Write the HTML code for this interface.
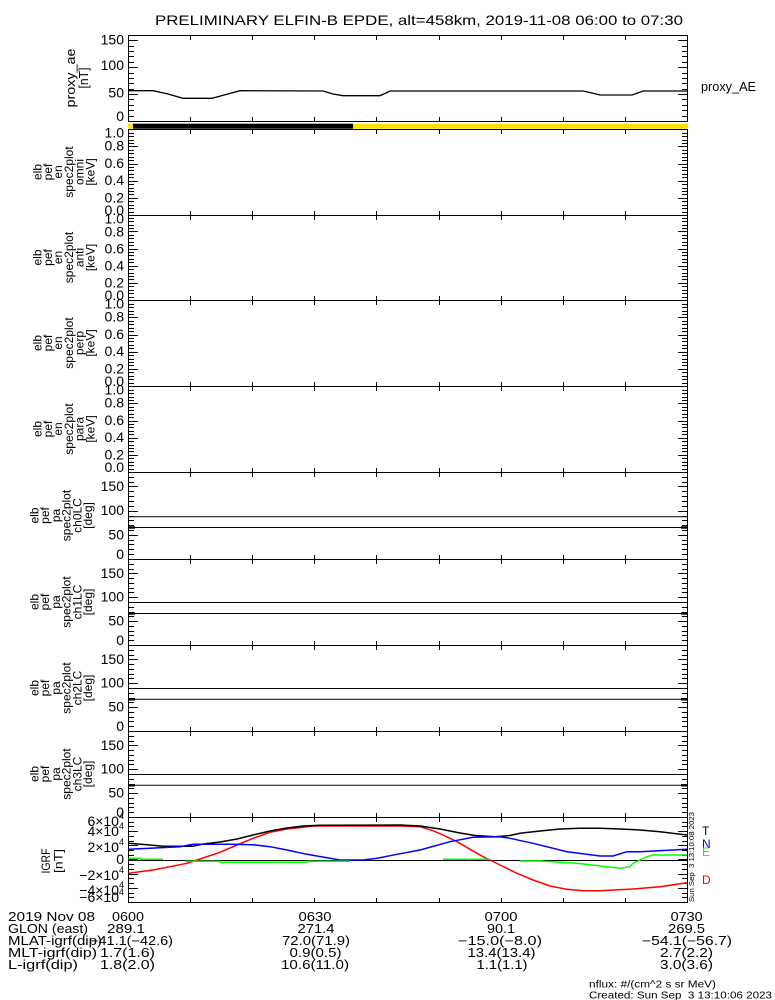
<!DOCTYPE html>
<html><head><meta charset="utf-8"><style>
html,body{margin:0;padding:0;background:#fff;}
svg{display:block;}
text{font-family:"Liberation Sans",sans-serif;fill:#000;}
</style></head><body>
<svg width="775" height="1000" viewBox="0 0 775 1000" xmlns="http://www.w3.org/2000/svg">
<rect width="775" height="1000" fill="#fff"/>

<!-- Title -->
<text x="155" y="25" font-size="14" textLength="528" lengthAdjust="spacingAndGlyphs">PRELIMINARY ELFIN-B EPDE, alt=458km, 2019-11-08 06:00 to 07:30</text>

<!-- status bar -->
<rect x="128" y="123.7" width="5" height="5" fill="#fde000"/>
<rect x="133" y="123.7" width="220" height="5" fill="#000"/>
<rect x="353" y="123.7" width="335" height="5" fill="#fde000"/>

<!-- frames -->
<g stroke="#000" stroke-width="1" fill="none" shape-rendering="crispEdges">
  <line x1="128.5" y1="35" x2="128.5" y2="122"/>
  <line x1="687.5" y1="35" x2="687.5" y2="122"/>
  <line x1="128.5" y1="129" x2="128.5" y2="903"/>
  <line x1="687.5" y1="129" x2="687.5" y2="903"/>
  <line x1="128" y1="35.5" x2="688" y2="35.5"/>
  <line x1="128" y1="121.5" x2="688" y2="121.5"/>
  <line x1="128" y1="129.5" x2="688" y2="129.5"/>
  <line x1="128" y1="215.5" x2="688" y2="215.5"/>
  <line x1="128" y1="300.5" x2="688" y2="300.5"/>
  <line x1="128" y1="386.5" x2="688" y2="386.5"/>
  <line x1="128" y1="472.5" x2="688" y2="472.5"/>
  <line x1="128" y1="559.5" x2="688" y2="559.5"/>
  <line x1="128" y1="645.5" x2="688" y2="645.5"/>
  <line x1="128" y1="731.5" x2="688" y2="731.5"/>
  <line x1="128" y1="817.5" x2="688" y2="817.5"/>
  <line x1="128" y1="902.5" x2="688" y2="902.5"/>
</g>

<!-- X ticks -->
<g stroke="#000" stroke-width="1" fill="none" shape-rendering="crispEdges">
<line x1="190.5" y1="36" x2="190.5" y2="40"/><line x1="190.5" y1="117" x2="190.5" y2="121"/><line x1="190.5" y1="130" x2="190.5" y2="134"/><line x1="190.5" y1="211" x2="190.5" y2="220"/><line x1="190.5" y1="296" x2="190.5" y2="305"/><line x1="190.5" y1="382" x2="190.5" y2="391"/><line x1="190.5" y1="468" x2="190.5" y2="477"/><line x1="190.5" y1="555" x2="190.5" y2="564"/><line x1="190.5" y1="641" x2="190.5" y2="650"/><line x1="190.5" y1="727" x2="190.5" y2="736"/><line x1="190.5" y1="813" x2="190.5" y2="822"/><line x1="190.5" y1="898" x2="190.5" y2="902"/>
<line x1="252.5" y1="36" x2="252.5" y2="40"/><line x1="252.5" y1="117" x2="252.5" y2="121"/><line x1="252.5" y1="130" x2="252.5" y2="134"/><line x1="252.5" y1="211" x2="252.5" y2="220"/><line x1="252.5" y1="296" x2="252.5" y2="305"/><line x1="252.5" y1="382" x2="252.5" y2="391"/><line x1="252.5" y1="468" x2="252.5" y2="477"/><line x1="252.5" y1="555" x2="252.5" y2="564"/><line x1="252.5" y1="641" x2="252.5" y2="650"/><line x1="252.5" y1="727" x2="252.5" y2="736"/><line x1="252.5" y1="813" x2="252.5" y2="822"/><line x1="252.5" y1="898" x2="252.5" y2="902"/>
<line x1="314.5" y1="36" x2="314.5" y2="40"/><line x1="314.5" y1="117" x2="314.5" y2="121"/><line x1="314.5" y1="130" x2="314.5" y2="134"/><line x1="314.5" y1="211" x2="314.5" y2="220"/><line x1="314.5" y1="296" x2="314.5" y2="305"/><line x1="314.5" y1="382" x2="314.5" y2="391"/><line x1="314.5" y1="468" x2="314.5" y2="477"/><line x1="314.5" y1="555" x2="314.5" y2="564"/><line x1="314.5" y1="641" x2="314.5" y2="650"/><line x1="314.5" y1="727" x2="314.5" y2="736"/><line x1="314.5" y1="813" x2="314.5" y2="822"/><line x1="314.5" y1="898" x2="314.5" y2="902"/>
<line x1="376.5" y1="36" x2="376.5" y2="40"/><line x1="376.5" y1="117" x2="376.5" y2="121"/><line x1="376.5" y1="130" x2="376.5" y2="134"/><line x1="376.5" y1="211" x2="376.5" y2="220"/><line x1="376.5" y1="296" x2="376.5" y2="305"/><line x1="376.5" y1="382" x2="376.5" y2="391"/><line x1="376.5" y1="468" x2="376.5" y2="477"/><line x1="376.5" y1="555" x2="376.5" y2="564"/><line x1="376.5" y1="641" x2="376.5" y2="650"/><line x1="376.5" y1="727" x2="376.5" y2="736"/><line x1="376.5" y1="813" x2="376.5" y2="822"/><line x1="376.5" y1="898" x2="376.5" y2="902"/>
<line x1="439.5" y1="36" x2="439.5" y2="40"/><line x1="439.5" y1="117" x2="439.5" y2="121"/><line x1="439.5" y1="130" x2="439.5" y2="134"/><line x1="439.5" y1="211" x2="439.5" y2="220"/><line x1="439.5" y1="296" x2="439.5" y2="305"/><line x1="439.5" y1="382" x2="439.5" y2="391"/><line x1="439.5" y1="468" x2="439.5" y2="477"/><line x1="439.5" y1="555" x2="439.5" y2="564"/><line x1="439.5" y1="641" x2="439.5" y2="650"/><line x1="439.5" y1="727" x2="439.5" y2="736"/><line x1="439.5" y1="813" x2="439.5" y2="822"/><line x1="439.5" y1="898" x2="439.5" y2="902"/>
<line x1="501.5" y1="36" x2="501.5" y2="40"/><line x1="501.5" y1="117" x2="501.5" y2="121"/><line x1="501.5" y1="130" x2="501.5" y2="134"/><line x1="501.5" y1="211" x2="501.5" y2="220"/><line x1="501.5" y1="296" x2="501.5" y2="305"/><line x1="501.5" y1="382" x2="501.5" y2="391"/><line x1="501.5" y1="468" x2="501.5" y2="477"/><line x1="501.5" y1="555" x2="501.5" y2="564"/><line x1="501.5" y1="641" x2="501.5" y2="650"/><line x1="501.5" y1="727" x2="501.5" y2="736"/><line x1="501.5" y1="813" x2="501.5" y2="822"/><line x1="501.5" y1="898" x2="501.5" y2="902"/>
<line x1="563.5" y1="36" x2="563.5" y2="40"/><line x1="563.5" y1="117" x2="563.5" y2="121"/><line x1="563.5" y1="130" x2="563.5" y2="134"/><line x1="563.5" y1="211" x2="563.5" y2="220"/><line x1="563.5" y1="296" x2="563.5" y2="305"/><line x1="563.5" y1="382" x2="563.5" y2="391"/><line x1="563.5" y1="468" x2="563.5" y2="477"/><line x1="563.5" y1="555" x2="563.5" y2="564"/><line x1="563.5" y1="641" x2="563.5" y2="650"/><line x1="563.5" y1="727" x2="563.5" y2="736"/><line x1="563.5" y1="813" x2="563.5" y2="822"/><line x1="563.5" y1="898" x2="563.5" y2="902"/>
<line x1="625.5" y1="36" x2="625.5" y2="40"/><line x1="625.5" y1="117" x2="625.5" y2="121"/><line x1="625.5" y1="130" x2="625.5" y2="134"/><line x1="625.5" y1="211" x2="625.5" y2="220"/><line x1="625.5" y1="296" x2="625.5" y2="305"/><line x1="625.5" y1="382" x2="625.5" y2="391"/><line x1="625.5" y1="468" x2="625.5" y2="477"/><line x1="625.5" y1="555" x2="625.5" y2="564"/><line x1="625.5" y1="641" x2="625.5" y2="650"/><line x1="625.5" y1="727" x2="625.5" y2="736"/><line x1="625.5" y1="813" x2="625.5" y2="822"/><line x1="625.5" y1="898" x2="625.5" y2="902"/>
</g>

<!-- Y ticks left -->
<g stroke="#000" stroke-width="1" fill="none" shape-rendering="crispEdges">
<line x1="128" y1="121.5" x2="138" y2="121.5"/><line x1="128" y1="116.5" x2="134" y2="116.5"/><line x1="128" y1="110.5" x2="134" y2="110.5"/><line x1="128" y1="105.5" x2="134" y2="105.5"/><line x1="128" y1="99.5" x2="134" y2="99.5"/><line x1="128" y1="94.5" x2="138" y2="94.5"/><line x1="128" y1="89.5" x2="134" y2="89.5"/><line x1="128" y1="83.5" x2="134" y2="83.5"/><line x1="128" y1="78.5" x2="134" y2="78.5"/><line x1="128" y1="73.5" x2="134" y2="73.5"/><line x1="128" y1="67.5" x2="138" y2="67.5"/><line x1="128" y1="62.5" x2="134" y2="62.5"/><line x1="128" y1="56.5" x2="134" y2="56.5"/><line x1="128" y1="51.5" x2="134" y2="51.5"/><line x1="128" y1="46.5" x2="134" y2="46.5"/><line x1="128" y1="40.5" x2="138" y2="40.5"/>

<line x1="128" y1="215.5" x2="138" y2="215.5"/><line x1="128" y1="212.5" x2="134" y2="212.5"/><line x1="128" y1="208.5" x2="134" y2="208.5"/><line x1="128" y1="205.5" x2="134" y2="205.5"/><line x1="128" y1="201.5" x2="134" y2="201.5"/><line x1="128" y1="198.5" x2="138" y2="198.5"/><line x1="128" y1="194.5" x2="134" y2="194.5"/><line x1="128" y1="191.5" x2="134" y2="191.5"/><line x1="128" y1="188.5" x2="134" y2="188.5"/><line x1="128" y1="184.5" x2="134" y2="184.5"/><line x1="128" y1="181.5" x2="138" y2="181.5"/><line x1="128" y1="177.5" x2="134" y2="177.5"/><line x1="128" y1="174.5" x2="134" y2="174.5"/><line x1="128" y1="170.5" x2="134" y2="170.5"/><line x1="128" y1="167.5" x2="134" y2="167.5"/><line x1="128" y1="164.5" x2="138" y2="164.5"/><line x1="128" y1="160.5" x2="134" y2="160.5"/><line x1="128" y1="157.5" x2="134" y2="157.5"/><line x1="128" y1="153.5" x2="134" y2="153.5"/><line x1="128" y1="150.5" x2="134" y2="150.5"/><line x1="128" y1="146.5" x2="138" y2="146.5"/><line x1="128" y1="143.5" x2="134" y2="143.5"/><line x1="128" y1="140.5" x2="134" y2="140.5"/><line x1="128" y1="136.5" x2="134" y2="136.5"/><line x1="128" y1="133.5" x2="134" y2="133.5"/><line x1="128" y1="129.5" x2="138" y2="129.5"/>

<line x1="128" y1="300.5" x2="138" y2="300.5"/><line x1="128" y1="297.5" x2="134" y2="297.5"/><line x1="128" y1="293.5" x2="134" y2="293.5"/><line x1="128" y1="290.5" x2="134" y2="290.5"/><line x1="128" y1="286.5" x2="134" y2="286.5"/><line x1="128" y1="283.5" x2="138" y2="283.5"/><line x1="128" y1="279.5" x2="134" y2="279.5"/><line x1="128" y1="276.5" x2="134" y2="276.5"/><line x1="128" y1="273.5" x2="134" y2="273.5"/><line x1="128" y1="269.5" x2="134" y2="269.5"/><line x1="128" y1="266.5" x2="138" y2="266.5"/><line x1="128" y1="262.5" x2="134" y2="262.5"/><line x1="128" y1="259.5" x2="134" y2="259.5"/><line x1="128" y1="255.5" x2="134" y2="255.5"/><line x1="128" y1="252.5" x2="134" y2="252.5"/><line x1="128" y1="249.5" x2="138" y2="249.5"/><line x1="128" y1="245.5" x2="134" y2="245.5"/><line x1="128" y1="242.5" x2="134" y2="242.5"/><line x1="128" y1="238.5" x2="134" y2="238.5"/><line x1="128" y1="235.5" x2="134" y2="235.5"/><line x1="128" y1="231.5" x2="138" y2="231.5"/><line x1="128" y1="228.5" x2="134" y2="228.5"/><line x1="128" y1="225.5" x2="134" y2="225.5"/><line x1="128" y1="221.5" x2="134" y2="221.5"/><line x1="128" y1="218.5" x2="134" y2="218.5"/>

<line x1="128" y1="386.5" x2="138" y2="386.5"/><line x1="128" y1="383.5" x2="134" y2="383.5"/><line x1="128" y1="379.5" x2="134" y2="379.5"/><line x1="128" y1="376.5" x2="134" y2="376.5"/><line x1="128" y1="372.5" x2="134" y2="372.5"/><line x1="128" y1="369.5" x2="138" y2="369.5"/><line x1="128" y1="365.5" x2="134" y2="365.5"/><line x1="128" y1="362.5" x2="134" y2="362.5"/><line x1="128" y1="359.5" x2="134" y2="359.5"/><line x1="128" y1="355.5" x2="134" y2="355.5"/><line x1="128" y1="352.5" x2="138" y2="352.5"/><line x1="128" y1="348.5" x2="134" y2="348.5"/><line x1="128" y1="345.5" x2="134" y2="345.5"/><line x1="128" y1="341.5" x2="134" y2="341.5"/><line x1="128" y1="338.5" x2="134" y2="338.5"/><line x1="128" y1="335.5" x2="138" y2="335.5"/><line x1="128" y1="331.5" x2="134" y2="331.5"/><line x1="128" y1="328.5" x2="134" y2="328.5"/><line x1="128" y1="324.5" x2="134" y2="324.5"/><line x1="128" y1="321.5" x2="134" y2="321.5"/><line x1="128" y1="317.5" x2="138" y2="317.5"/><line x1="128" y1="314.5" x2="134" y2="314.5"/><line x1="128" y1="311.5" x2="134" y2="311.5"/><line x1="128" y1="307.5" x2="134" y2="307.5"/><line x1="128" y1="304.5" x2="134" y2="304.5"/>

<line x1="128" y1="472.5" x2="138" y2="472.5"/><line x1="128" y1="469.5" x2="134" y2="469.5"/><line x1="128" y1="465.5" x2="134" y2="465.5"/><line x1="128" y1="462.5" x2="134" y2="462.5"/><line x1="128" y1="458.5" x2="134" y2="458.5"/><line x1="128" y1="455.5" x2="138" y2="455.5"/><line x1="128" y1="451.5" x2="134" y2="451.5"/><line x1="128" y1="448.5" x2="134" y2="448.5"/><line x1="128" y1="445.5" x2="134" y2="445.5"/><line x1="128" y1="441.5" x2="134" y2="441.5"/><line x1="128" y1="438.5" x2="138" y2="438.5"/><line x1="128" y1="434.5" x2="134" y2="434.5"/><line x1="128" y1="431.5" x2="134" y2="431.5"/><line x1="128" y1="427.5" x2="134" y2="427.5"/><line x1="128" y1="424.5" x2="134" y2="424.5"/><line x1="128" y1="421.5" x2="138" y2="421.5"/><line x1="128" y1="417.5" x2="134" y2="417.5"/><line x1="128" y1="414.5" x2="134" y2="414.5"/><line x1="128" y1="410.5" x2="134" y2="410.5"/><line x1="128" y1="407.5" x2="134" y2="407.5"/><line x1="128" y1="403.5" x2="138" y2="403.5"/><line x1="128" y1="400.5" x2="134" y2="400.5"/><line x1="128" y1="397.5" x2="134" y2="397.5"/><line x1="128" y1="393.5" x2="134" y2="393.5"/><line x1="128" y1="390.5" x2="134" y2="390.5"/>

<line x1="128" y1="559.5" x2="138" y2="559.5"/><line x1="128" y1="554.5" x2="134" y2="554.5"/><line x1="128" y1="549.5" x2="134" y2="549.5"/><line x1="128" y1="544.5" x2="134" y2="544.5"/><line x1="128" y1="540.5" x2="134" y2="540.5"/><line x1="128" y1="535.5" x2="138" y2="535.5"/><line x1="128" y1="530.5" x2="134" y2="530.5"/><line x1="128" y1="525.5" x2="134" y2="525.5"/><line x1="128" y1="520.5" x2="134" y2="520.5"/><line x1="128" y1="516.5" x2="134" y2="516.5"/><line x1="128" y1="511.5" x2="138" y2="511.5"/><line x1="128" y1="506.5" x2="134" y2="506.5"/><line x1="128" y1="501.5" x2="134" y2="501.5"/><line x1="128" y1="496.5" x2="134" y2="496.5"/><line x1="128" y1="491.5" x2="134" y2="491.5"/><line x1="128" y1="486.5" x2="138" y2="486.5"/><line x1="128" y1="482.5" x2="134" y2="482.5"/><line x1="128" y1="477.5" x2="134" y2="477.5"/>

<line x1="128" y1="645.5" x2="138" y2="645.5"/><line x1="128" y1="640.5" x2="134" y2="640.5"/><line x1="128" y1="635.5" x2="134" y2="635.5"/><line x1="128" y1="631.5" x2="134" y2="631.5"/><line x1="128" y1="626.5" x2="134" y2="626.5"/><line x1="128" y1="621.5" x2="138" y2="621.5"/><line x1="128" y1="616.5" x2="134" y2="616.5"/><line x1="128" y1="612.5" x2="134" y2="612.5"/><line x1="128" y1="607.5" x2="134" y2="607.5"/><line x1="128" y1="602.5" x2="134" y2="602.5"/><line x1="128" y1="597.5" x2="138" y2="597.5"/><line x1="128" y1="592.5" x2="134" y2="592.5"/><line x1="128" y1="588.5" x2="134" y2="588.5"/><line x1="128" y1="583.5" x2="134" y2="583.5"/><line x1="128" y1="578.5" x2="134" y2="578.5"/><line x1="128" y1="573.5" x2="138" y2="573.5"/><line x1="128" y1="569.5" x2="134" y2="569.5"/><line x1="128" y1="564.5" x2="134" y2="564.5"/>

<line x1="128" y1="731.5" x2="138" y2="731.5"/><line x1="128" y1="726.5" x2="134" y2="726.5"/><line x1="128" y1="721.5" x2="134" y2="721.5"/><line x1="128" y1="717.5" x2="134" y2="717.5"/><line x1="128" y1="712.5" x2="134" y2="712.5"/><line x1="128" y1="707.5" x2="138" y2="707.5"/><line x1="128" y1="702.5" x2="134" y2="702.5"/><line x1="128" y1="698.5" x2="134" y2="698.5"/><line x1="128" y1="693.5" x2="134" y2="693.5"/><line x1="128" y1="688.5" x2="134" y2="688.5"/><line x1="128" y1="683.5" x2="138" y2="683.5"/><line x1="128" y1="678.5" x2="134" y2="678.5"/><line x1="128" y1="674.5" x2="134" y2="674.5"/><line x1="128" y1="669.5" x2="134" y2="669.5"/><line x1="128" y1="664.5" x2="134" y2="664.5"/><line x1="128" y1="659.5" x2="138" y2="659.5"/><line x1="128" y1="655.5" x2="134" y2="655.5"/><line x1="128" y1="650.5" x2="134" y2="650.5"/>

<line x1="128" y1="817.5" x2="138" y2="817.5"/><line x1="128" y1="812.5" x2="134" y2="812.5"/><line x1="128" y1="807.5" x2="134" y2="807.5"/><line x1="128" y1="803.5" x2="134" y2="803.5"/><line x1="128" y1="798.5" x2="134" y2="798.5"/><line x1="128" y1="793.5" x2="138" y2="793.5"/><line x1="128" y1="788.5" x2="134" y2="788.5"/><line x1="128" y1="784.5" x2="134" y2="784.5"/><line x1="128" y1="779.5" x2="134" y2="779.5"/><line x1="128" y1="774.5" x2="134" y2="774.5"/><line x1="128" y1="769.5" x2="138" y2="769.5"/><line x1="128" y1="764.5" x2="134" y2="764.5"/><line x1="128" y1="760.5" x2="134" y2="760.5"/><line x1="128" y1="755.5" x2="134" y2="755.5"/><line x1="128" y1="750.5" x2="134" y2="750.5"/><line x1="128" y1="745.5" x2="138" y2="745.5"/><line x1="128" y1="741.5" x2="134" y2="741.5"/><line x1="128" y1="736.5" x2="134" y2="736.5"/>

<line x1="128" y1="902.5" x2="138" y2="902.5"/><line x1="128" y1="897.5" x2="134" y2="897.5"/><line x1="128" y1="893.5" x2="134" y2="893.5"/><line x1="128" y1="888.5" x2="138" y2="888.5"/><line x1="128" y1="883.5" x2="134" y2="883.5"/><line x1="128" y1="878.5" x2="134" y2="878.5"/><line x1="128" y1="874.5" x2="138" y2="874.5"/><line x1="128" y1="869.5" x2="134" y2="869.5"/><line x1="128" y1="864.5" x2="134" y2="864.5"/><line x1="128" y1="859.5" x2="138" y2="859.5"/><line x1="128" y1="855.5" x2="134" y2="855.5"/><line x1="128" y1="850.5" x2="134" y2="850.5"/><line x1="128" y1="845.5" x2="138" y2="845.5"/><line x1="128" y1="841.5" x2="134" y2="841.5"/><line x1="128" y1="836.5" x2="134" y2="836.5"/><line x1="128" y1="831.5" x2="138" y2="831.5"/><line x1="128" y1="826.5" x2="134" y2="826.5"/><line x1="128" y1="822.5" x2="134" y2="822.5"/>
</g>

<!-- Y ticks right -->
<g stroke="#000" stroke-width="1" fill="none" shape-rendering="crispEdges">
<line x1="688" y1="121.5" x2="678" y2="121.5"/><line x1="688" y1="116.5" x2="682" y2="116.5"/><line x1="688" y1="110.5" x2="682" y2="110.5"/><line x1="688" y1="105.5" x2="682" y2="105.5"/><line x1="688" y1="99.5" x2="682" y2="99.5"/><line x1="688" y1="94.5" x2="678" y2="94.5"/><line x1="688" y1="89.5" x2="682" y2="89.5"/><line x1="688" y1="83.5" x2="682" y2="83.5"/><line x1="688" y1="78.5" x2="682" y2="78.5"/><line x1="688" y1="73.5" x2="682" y2="73.5"/><line x1="688" y1="67.5" x2="678" y2="67.5"/><line x1="688" y1="62.5" x2="682" y2="62.5"/><line x1="688" y1="56.5" x2="682" y2="56.5"/><line x1="688" y1="51.5" x2="682" y2="51.5"/><line x1="688" y1="46.5" x2="682" y2="46.5"/><line x1="688" y1="40.5" x2="678" y2="40.5"/>

<line x1="688" y1="215.5" x2="678" y2="215.5"/><line x1="688" y1="212.5" x2="682" y2="212.5"/><line x1="688" y1="208.5" x2="682" y2="208.5"/><line x1="688" y1="205.5" x2="682" y2="205.5"/><line x1="688" y1="201.5" x2="682" y2="201.5"/><line x1="688" y1="198.5" x2="678" y2="198.5"/><line x1="688" y1="194.5" x2="682" y2="194.5"/><line x1="688" y1="191.5" x2="682" y2="191.5"/><line x1="688" y1="188.5" x2="682" y2="188.5"/><line x1="688" y1="184.5" x2="682" y2="184.5"/><line x1="688" y1="181.5" x2="678" y2="181.5"/><line x1="688" y1="177.5" x2="682" y2="177.5"/><line x1="688" y1="174.5" x2="682" y2="174.5"/><line x1="688" y1="170.5" x2="682" y2="170.5"/><line x1="688" y1="167.5" x2="682" y2="167.5"/><line x1="688" y1="164.5" x2="678" y2="164.5"/><line x1="688" y1="160.5" x2="682" y2="160.5"/><line x1="688" y1="157.5" x2="682" y2="157.5"/><line x1="688" y1="153.5" x2="682" y2="153.5"/><line x1="688" y1="150.5" x2="682" y2="150.5"/><line x1="688" y1="146.5" x2="678" y2="146.5"/><line x1="688" y1="143.5" x2="682" y2="143.5"/><line x1="688" y1="140.5" x2="682" y2="140.5"/><line x1="688" y1="136.5" x2="682" y2="136.5"/><line x1="688" y1="133.5" x2="682" y2="133.5"/><line x1="688" y1="129.5" x2="678" y2="129.5"/>

<line x1="688" y1="300.5" x2="678" y2="300.5"/><line x1="688" y1="297.5" x2="682" y2="297.5"/><line x1="688" y1="293.5" x2="682" y2="293.5"/><line x1="688" y1="290.5" x2="682" y2="290.5"/><line x1="688" y1="286.5" x2="682" y2="286.5"/><line x1="688" y1="283.5" x2="678" y2="283.5"/><line x1="688" y1="279.5" x2="682" y2="279.5"/><line x1="688" y1="276.5" x2="682" y2="276.5"/><line x1="688" y1="273.5" x2="682" y2="273.5"/><line x1="688" y1="269.5" x2="682" y2="269.5"/><line x1="688" y1="266.5" x2="678" y2="266.5"/><line x1="688" y1="262.5" x2="682" y2="262.5"/><line x1="688" y1="259.5" x2="682" y2="259.5"/><line x1="688" y1="255.5" x2="682" y2="255.5"/><line x1="688" y1="252.5" x2="682" y2="252.5"/><line x1="688" y1="249.5" x2="678" y2="249.5"/><line x1="688" y1="245.5" x2="682" y2="245.5"/><line x1="688" y1="242.5" x2="682" y2="242.5"/><line x1="688" y1="238.5" x2="682" y2="238.5"/><line x1="688" y1="235.5" x2="682" y2="235.5"/><line x1="688" y1="231.5" x2="678" y2="231.5"/><line x1="688" y1="228.5" x2="682" y2="228.5"/><line x1="688" y1="225.5" x2="682" y2="225.5"/><line x1="688" y1="221.5" x2="682" y2="221.5"/><line x1="688" y1="218.5" x2="682" y2="218.5"/>

<line x1="688" y1="386.5" x2="678" y2="386.5"/><line x1="688" y1="383.5" x2="682" y2="383.5"/><line x1="688" y1="379.5" x2="682" y2="379.5"/><line x1="688" y1="376.5" x2="682" y2="376.5"/><line x1="688" y1="372.5" x2="682" y2="372.5"/><line x1="688" y1="369.5" x2="678" y2="369.5"/><line x1="688" y1="365.5" x2="682" y2="365.5"/><line x1="688" y1="362.5" x2="682" y2="362.5"/><line x1="688" y1="359.5" x2="682" y2="359.5"/><line x1="688" y1="355.5" x2="682" y2="355.5"/><line x1="688" y1="352.5" x2="678" y2="352.5"/><line x1="688" y1="348.5" x2="682" y2="348.5"/><line x1="688" y1="345.5" x2="682" y2="345.5"/><line x1="688" y1="341.5" x2="682" y2="341.5"/><line x1="688" y1="338.5" x2="682" y2="338.5"/><line x1="688" y1="335.5" x2="678" y2="335.5"/><line x1="688" y1="331.5" x2="682" y2="331.5"/><line x1="688" y1="328.5" x2="682" y2="328.5"/><line x1="688" y1="324.5" x2="682" y2="324.5"/><line x1="688" y1="321.5" x2="682" y2="321.5"/><line x1="688" y1="317.5" x2="678" y2="317.5"/><line x1="688" y1="314.5" x2="682" y2="314.5"/><line x1="688" y1="311.5" x2="682" y2="311.5"/><line x1="688" y1="307.5" x2="682" y2="307.5"/><line x1="688" y1="304.5" x2="682" y2="304.5"/>

<line x1="688" y1="472.5" x2="678" y2="472.5"/><line x1="688" y1="469.5" x2="682" y2="469.5"/><line x1="688" y1="465.5" x2="682" y2="465.5"/><line x1="688" y1="462.5" x2="682" y2="462.5"/><line x1="688" y1="458.5" x2="682" y2="458.5"/><line x1="688" y1="455.5" x2="678" y2="455.5"/><line x1="688" y1="451.5" x2="682" y2="451.5"/><line x1="688" y1="448.5" x2="682" y2="448.5"/><line x1="688" y1="445.5" x2="682" y2="445.5"/><line x1="688" y1="441.5" x2="682" y2="441.5"/><line x1="688" y1="438.5" x2="678" y2="438.5"/><line x1="688" y1="434.5" x2="682" y2="434.5"/><line x1="688" y1="431.5" x2="682" y2="431.5"/><line x1="688" y1="427.5" x2="682" y2="427.5"/><line x1="688" y1="424.5" x2="682" y2="424.5"/><line x1="688" y1="421.5" x2="678" y2="421.5"/><line x1="688" y1="417.5" x2="682" y2="417.5"/><line x1="688" y1="414.5" x2="682" y2="414.5"/><line x1="688" y1="410.5" x2="682" y2="410.5"/><line x1="688" y1="407.5" x2="682" y2="407.5"/><line x1="688" y1="403.5" x2="678" y2="403.5"/><line x1="688" y1="400.5" x2="682" y2="400.5"/><line x1="688" y1="397.5" x2="682" y2="397.5"/><line x1="688" y1="393.5" x2="682" y2="393.5"/><line x1="688" y1="390.5" x2="682" y2="390.5"/>

<line x1="688" y1="559.5" x2="678" y2="559.5"/><line x1="688" y1="554.5" x2="682" y2="554.5"/><line x1="688" y1="549.5" x2="682" y2="549.5"/><line x1="688" y1="544.5" x2="682" y2="544.5"/><line x1="688" y1="540.5" x2="682" y2="540.5"/><line x1="688" y1="535.5" x2="678" y2="535.5"/><line x1="688" y1="530.5" x2="682" y2="530.5"/><line x1="688" y1="525.5" x2="682" y2="525.5"/><line x1="688" y1="520.5" x2="682" y2="520.5"/><line x1="688" y1="516.5" x2="682" y2="516.5"/><line x1="688" y1="511.5" x2="678" y2="511.5"/><line x1="688" y1="506.5" x2="682" y2="506.5"/><line x1="688" y1="501.5" x2="682" y2="501.5"/><line x1="688" y1="496.5" x2="682" y2="496.5"/><line x1="688" y1="491.5" x2="682" y2="491.5"/><line x1="688" y1="486.5" x2="678" y2="486.5"/><line x1="688" y1="482.5" x2="682" y2="482.5"/><line x1="688" y1="477.5" x2="682" y2="477.5"/>

<line x1="688" y1="645.5" x2="678" y2="645.5"/><line x1="688" y1="640.5" x2="682" y2="640.5"/><line x1="688" y1="635.5" x2="682" y2="635.5"/><line x1="688" y1="631.5" x2="682" y2="631.5"/><line x1="688" y1="626.5" x2="682" y2="626.5"/><line x1="688" y1="621.5" x2="678" y2="621.5"/><line x1="688" y1="616.5" x2="682" y2="616.5"/><line x1="688" y1="612.5" x2="682" y2="612.5"/><line x1="688" y1="607.5" x2="682" y2="607.5"/><line x1="688" y1="602.5" x2="682" y2="602.5"/><line x1="688" y1="597.5" x2="678" y2="597.5"/><line x1="688" y1="592.5" x2="682" y2="592.5"/><line x1="688" y1="588.5" x2="682" y2="588.5"/><line x1="688" y1="583.5" x2="682" y2="583.5"/><line x1="688" y1="578.5" x2="682" y2="578.5"/><line x1="688" y1="573.5" x2="678" y2="573.5"/><line x1="688" y1="569.5" x2="682" y2="569.5"/><line x1="688" y1="564.5" x2="682" y2="564.5"/>

<line x1="688" y1="731.5" x2="678" y2="731.5"/><line x1="688" y1="726.5" x2="682" y2="726.5"/><line x1="688" y1="721.5" x2="682" y2="721.5"/><line x1="688" y1="717.5" x2="682" y2="717.5"/><line x1="688" y1="712.5" x2="682" y2="712.5"/><line x1="688" y1="707.5" x2="678" y2="707.5"/><line x1="688" y1="702.5" x2="682" y2="702.5"/><line x1="688" y1="698.5" x2="682" y2="698.5"/><line x1="688" y1="693.5" x2="682" y2="693.5"/><line x1="688" y1="688.5" x2="682" y2="688.5"/><line x1="688" y1="683.5" x2="678" y2="683.5"/><line x1="688" y1="678.5" x2="682" y2="678.5"/><line x1="688" y1="674.5" x2="682" y2="674.5"/><line x1="688" y1="669.5" x2="682" y2="669.5"/><line x1="688" y1="664.5" x2="682" y2="664.5"/><line x1="688" y1="659.5" x2="678" y2="659.5"/><line x1="688" y1="655.5" x2="682" y2="655.5"/><line x1="688" y1="650.5" x2="682" y2="650.5"/>

<line x1="688" y1="817.5" x2="678" y2="817.5"/><line x1="688" y1="812.5" x2="682" y2="812.5"/><line x1="688" y1="807.5" x2="682" y2="807.5"/><line x1="688" y1="803.5" x2="682" y2="803.5"/><line x1="688" y1="798.5" x2="682" y2="798.5"/><line x1="688" y1="793.5" x2="678" y2="793.5"/><line x1="688" y1="788.5" x2="682" y2="788.5"/><line x1="688" y1="784.5" x2="682" y2="784.5"/><line x1="688" y1="779.5" x2="682" y2="779.5"/><line x1="688" y1="774.5" x2="682" y2="774.5"/><line x1="688" y1="769.5" x2="678" y2="769.5"/><line x1="688" y1="764.5" x2="682" y2="764.5"/><line x1="688" y1="760.5" x2="682" y2="760.5"/><line x1="688" y1="755.5" x2="682" y2="755.5"/><line x1="688" y1="750.5" x2="682" y2="750.5"/><line x1="688" y1="745.5" x2="678" y2="745.5"/><line x1="688" y1="741.5" x2="682" y2="741.5"/><line x1="688" y1="736.5" x2="682" y2="736.5"/>

<line x1="688" y1="902.5" x2="678" y2="902.5"/><line x1="688" y1="897.5" x2="682" y2="897.5"/><line x1="688" y1="893.5" x2="682" y2="893.5"/><line x1="688" y1="888.5" x2="678" y2="888.5"/><line x1="688" y1="883.5" x2="682" y2="883.5"/><line x1="688" y1="878.5" x2="682" y2="878.5"/><line x1="688" y1="874.5" x2="678" y2="874.5"/><line x1="688" y1="869.5" x2="682" y2="869.5"/><line x1="688" y1="864.5" x2="682" y2="864.5"/><line x1="688" y1="859.5" x2="678" y2="859.5"/><line x1="688" y1="855.5" x2="682" y2="855.5"/><line x1="688" y1="850.5" x2="682" y2="850.5"/><line x1="688" y1="845.5" x2="678" y2="845.5"/><line x1="688" y1="841.5" x2="682" y2="841.5"/><line x1="688" y1="836.5" x2="682" y2="836.5"/><line x1="688" y1="831.5" x2="678" y2="831.5"/><line x1="688" y1="826.5" x2="682" y2="826.5"/><line x1="688" y1="822.5" x2="682" y2="822.5"/>
</g>

<!-- Y tick labels -->
<g font-size="14" text-anchor="end">
  <text x="124" y="44.5">150</text>
  <text x="124" y="70">100</text>
  <text x="124" y="97.5">50</text>
  <text x="124" y="121">0</text>

  <text x="124" y="137.5">1.0</text>
  <text x="124" y="150.7">0.8</text>
  <text x="124" y="167.9">0.6</text>
  <text x="124" y="185.1">0.4</text>
  <text x="124" y="202.3">0.2</text>
  <text x="124" y="215">0.0</text>

  <text x="124" y="223.5">1.0</text>
  <text x="124" y="236.5">0.8</text>
  <text x="124" y="253.5">0.6</text>
  <text x="124" y="270.5">0.4</text>
  <text x="124" y="287.5">0.2</text>
  <text x="124" y="300">0.0</text>

  <text x="124" y="308.5">1.0</text>
  <text x="124" y="321.7">0.8</text>
  <text x="124" y="338.9">0.6</text>
  <text x="124" y="356.1">0.4</text>
  <text x="124" y="373.3">0.2</text>
  <text x="124" y="386">0.0</text>

  <text x="124" y="394.5">1.0</text>
  <text x="124" y="407.7">0.8</text>
  <text x="124" y="424.9">0.6</text>
  <text x="124" y="442.1">0.4</text>
  <text x="124" y="459.3">0.2</text>
  <text x="124" y="472">0.0</text>

  <text x="124" y="491">150</text>
  <text x="124" y="515.2">100</text>
  <text x="124" y="539.3">50</text>
  <text x="124" y="559">0</text>

  <text x="124" y="577.8">150</text>
  <text x="124" y="601.7">100</text>
  <text x="124" y="625.6">50</text>
  <text x="124" y="645">0</text>

  <text x="124" y="663.8">150</text>
  <text x="124" y="687.7">100</text>
  <text x="124" y="711.6">50</text>
  <text x="124" y="731">0</text>

  <text x="124" y="749.8">150</text>
  <text x="124" y="773.7">100</text>
  <text x="124" y="797.6">50</text>
  <text x="124" y="817">0</text>

  <text x="124" y="826">6×10<tspan font-size="9" dy="-7">4</tspan></text>
  <text x="124" y="836">4×10<tspan font-size="9" dy="-7">4</tspan></text>
  <text x="124" y="852">2×10<tspan font-size="9" dy="-7">4</tspan></text>
  <text x="124" y="864">0</text>
  <text x="124" y="880">−2×10<tspan font-size="9" dy="-7">4</tspan></text>
  <text x="124" y="895">−4×10<tspan font-size="9" dy="-7">4</tspan></text>
  <text x="124" y="902">−6×10<tspan font-size="9" dy="-7">4</tspan></text>
</g>

<!-- Y axis titles (rotated) -->
<g font-size="13" text-anchor="middle">
  <text transform="translate(75,78) rotate(-90)" textLength="59" lengthAdjust="spacingAndGlyphs">proxy_ae</text>
  <text transform="translate(88,78) rotate(-90)" textLength="21" lengthAdjust="spacingAndGlyphs">[nT]</text>
</g>
<g font-size="12" text-anchor="middle">
  <text transform="translate(41.5,172) rotate(-90)">elb</text>
  <text transform="translate(52,172) rotate(-90)">pef</text>
  <text transform="translate(62,172) rotate(-90)">en</text>
  <text transform="translate(73,172) rotate(-90)">spec2plot</text>
  <text transform="translate(83.5,172) rotate(-90)">omni</text>
  <text transform="translate(94.5,172) rotate(-90)">[keV]</text>

  <text transform="translate(41.5,257.5) rotate(-90)">elb</text>
  <text transform="translate(52,257.5) rotate(-90)">pef</text>
  <text transform="translate(62,257.5) rotate(-90)">en</text>
  <text transform="translate(73,257.5) rotate(-90)">spec2plot</text>
  <text transform="translate(83.5,257.5) rotate(-90)">anti</text>
  <text transform="translate(94.5,257.5) rotate(-90)">[keV]</text>

  <text transform="translate(41.5,343) rotate(-90)">elb</text>
  <text transform="translate(52,343) rotate(-90)">pef</text>
  <text transform="translate(62,343) rotate(-90)">en</text>
  <text transform="translate(73,343) rotate(-90)">spec2plot</text>
  <text transform="translate(83.5,343) rotate(-90)">perp</text>
  <text transform="translate(94.5,343) rotate(-90)">[keV]</text>

  <text transform="translate(41.5,429) rotate(-90)">elb</text>
  <text transform="translate(52,429) rotate(-90)">pef</text>
  <text transform="translate(62,429) rotate(-90)">en</text>
  <text transform="translate(73,429) rotate(-90)">spec2plot</text>
  <text transform="translate(83.5,429) rotate(-90)">para</text>
  <text transform="translate(94.5,429) rotate(-90)">[keV]</text>

  <text transform="translate(38.5,515.5) rotate(-90)">elb</text>
  <text transform="translate(49.2,515.5) rotate(-90)">pef</text>
  <text transform="translate(59.9,515.5) rotate(-90)">pa</text>
  <text transform="translate(70.6,515.5) rotate(-90)">spec2plot</text>
  <text transform="translate(81.3,515.5) rotate(-90)">ch0LC</text>
  <text transform="translate(92,515.5) rotate(-90)">[deg]</text>

  <text transform="translate(38.5,602) rotate(-90)">elb</text>
  <text transform="translate(49.2,602) rotate(-90)">pef</text>
  <text transform="translate(59.9,602) rotate(-90)">pa</text>
  <text transform="translate(70.6,602) rotate(-90)">spec2plot</text>
  <text transform="translate(81.3,602) rotate(-90)">ch1LC</text>
  <text transform="translate(92,602) rotate(-90)">[deg]</text>

  <text transform="translate(38.5,688) rotate(-90)">elb</text>
  <text transform="translate(49.2,688) rotate(-90)">pef</text>
  <text transform="translate(59.9,688) rotate(-90)">pa</text>
  <text transform="translate(70.6,688) rotate(-90)">spec2plot</text>
  <text transform="translate(81.3,688) rotate(-90)">ch2LC</text>
  <text transform="translate(92,688) rotate(-90)">[deg]</text>

  <text transform="translate(38.5,774) rotate(-90)">elb</text>
  <text transform="translate(49.2,774) rotate(-90)">pef</text>
  <text transform="translate(59.9,774) rotate(-90)">pa</text>
  <text transform="translate(70.6,774) rotate(-90)">spec2plot</text>
  <text transform="translate(81.3,774) rotate(-90)">ch3LC</text>
  <text transform="translate(92,774) rotate(-90)">[deg]</text>

  <text transform="translate(50,861) rotate(-90)" textLength="25" lengthAdjust="spacingAndGlyphs">IGRF</text>
  <text transform="translate(62.5,861) rotate(-90)" textLength="24" lengthAdjust="spacingAndGlyphs">[nT]</text>
</g>

<!-- proxy AE curve -->
<polyline fill="none" stroke="#000" stroke-width="1.3" points="128.5,90.7 153,90.7 168,94 183,98.3 212,98.3 226,94.5 240,90.7 323,91 333,94 343,95.7 380,95.7 390,91 583,91 592,93 600,95 632,95 643,91 687,91"/>
<text x="701" y="91" font-size="13" textLength="55" lengthAdjust="spacingAndGlyphs">proxy_AE</text>

<!-- pitch angle lines -->
<g stroke="#000" stroke-width="1" fill="none">
  <line x1="128.5" y1="516.8" x2="687.5" y2="516.8"/>
  <line x1="128.5" y1="527.5" x2="687.5" y2="527.5"/>
  <line x1="128.5" y1="602.5" x2="687.5" y2="602.5"/>
  <line x1="128.5" y1="613.5" x2="687.5" y2="613.5"/>
  <line x1="128.5" y1="688.5" x2="687.5" y2="688.5"/>
  <line x1="128.5" y1="699.3" x2="687.5" y2="699.3"/>
  <line x1="128.5" y1="774.5" x2="687.5" y2="774.5"/>
  <line x1="128.5" y1="785.3" x2="687.5" y2="785.3"/>
</g>
<g fill="#000">
  <rect x="128" y="526.3" width="7" height="2.4"/>
  <rect x="681" y="526.3" width="7" height="2.4"/>
  <rect x="128" y="612.3" width="7" height="2.4"/>
  <rect x="681" y="612.3" width="7" height="2.4"/>
  <rect x="128" y="698.1" width="7" height="2.4"/>
  <rect x="681" y="698.1" width="7" height="2.4"/>
  <rect x="128" y="784.1" width="7" height="2.4"/>
  <rect x="681" y="784.1" width="7" height="2.4"/>
</g>

<!-- IGRF panel -->
<line x1="128.5" y1="860.5" x2="687.5" y2="860.5" stroke="#000" stroke-width="1"/>
<g fill="none" stroke-width="1.5">
  <polyline stroke="#ff0000" points="128.5,873.3 153,870 187,863.3 197,860 220,852.3 237,845 253,838.3 270,832.3 287,829 303,827.3 313,826 330,826 400,826 420,826.7 433,830.7 443,835 457,841.7 470,849.3 483,856.7 490,860 500,865 517,873.3 533,880 550,886 567,889.3 583,890.7 600,890.7 633,889 660,886.7 687,882.7"/>
  <polyline stroke="#000000" points="128.5,843.3 150,845 163,846.3 193,846.3 203,844 220,842 237,839 253,835 270,831 287,828 303,826 320,825.3 400,825 420,826 440,829 460,833 475,835.5 495,836.7 510,835.5 520,833.3 540,831 560,829 580,828.3 600,828.3 620,829 640,830 660,831.7 687,835"/>
  <polyline stroke="#0000ff" points="128.5,849.3 150,848.3 180,846.7 193,844.3 233,844.3 253,844.7 270,846.7 287,850 307,854.3 327,857.7 340,860 363,860 377,858.3 397,854.3 420,850 450,841.7 473,837.3 500,836.7 510,838.3 533,843.3 567,851.7 600,856 613,856 627,851.7 640,851.7 687,849.3"/>
  <polyline stroke="#00ff00" points="128.5,858.3 141,858.3 141,859.3 163,859.3"/>
  <polyline stroke="#00ff00" points="185,861.3 220,861.3 220,862.3 307,862.3 307,861.3 350,861.3"/>
  <polyline stroke="#00ff00" points="443,859.3 490,859.3"/>
  <polyline stroke="#00ff00" points="520,861 540,861 577,863.3 607,866.7 620,868.3 630,866.7 633,863.3 640,860 647,856.7 653,855 687,855"/>
</g>
<g font-size="12">
  <text x="702" y="835" fill="#000">T</text>
  <text x="702" y="848" style="fill:#0000ff">N</text>
  <text x="702" y="856" style="fill:#00ff00">E</text>
  <text x="702" y="884" style="fill:#ff0000">D</text>
</g>
<text transform="translate(694,902) rotate(-90)" font-size="7" textLength="90" lengthAdjust="spacingAndGlyphs" style="white-space:pre">Sun Sep  3 13:10:08 2023</text>

<!-- bottom annotation -->
<g font-size="12.5">
  <text x="8" y="921" textLength="87" lengthAdjust="spacingAndGlyphs">2019 Nov 08</text>
  <text x="8" y="933" textLength="80" lengthAdjust="spacingAndGlyphs">GLON (east)</text>
  <text x="8" y="945" textLength="94" lengthAdjust="spacingAndGlyphs">MLAT-igrf(dip)</text>
  <text x="8" y="957" textLength="89" lengthAdjust="spacingAndGlyphs">MLT-igrf(dip)</text>
  <text x="8" y="969" textLength="70" lengthAdjust="spacingAndGlyphs">L-igrf(dip)</text>
</g>
<g font-size="12.5" text-anchor="middle">
  <text x="128" y="921" textLength="32" lengthAdjust="spacingAndGlyphs">0600</text>
  <text x="126" y="933" textLength="38" lengthAdjust="spacingAndGlyphs">289.1</text>
  <text x="131.5" y="945" textLength="83" lengthAdjust="spacingAndGlyphs">−41.1(−42.6)</text>
  <text x="127.5" y="957" textLength="55" lengthAdjust="spacingAndGlyphs">1.7(1.6)</text>
  <text x="127.5" y="969" textLength="55" lengthAdjust="spacingAndGlyphs">1.8(2.0)</text>

  <text x="315" y="921" textLength="33" lengthAdjust="spacingAndGlyphs">0630</text>
  <text x="316" y="933" textLength="37" lengthAdjust="spacingAndGlyphs">271.4</text>
  <text x="316" y="945" textLength="68" lengthAdjust="spacingAndGlyphs">72.0(71.9)</text>
  <text x="315.5" y="957" textLength="52" lengthAdjust="spacingAndGlyphs">0.9(0.5)</text>
  <text x="315" y="969" textLength="68" lengthAdjust="spacingAndGlyphs">10.6(11.0)</text>

  <text x="501" y="921" textLength="33" lengthAdjust="spacingAndGlyphs">0700</text>
  <text x="501" y="933" textLength="28" lengthAdjust="spacingAndGlyphs">90.1</text>
  <text x="500" y="945" textLength="84" lengthAdjust="spacingAndGlyphs">−15.0(−8.0)</text>
  <text x="501.5" y="957" textLength="68" lengthAdjust="spacingAndGlyphs">13.4(13.4)</text>
  <text x="502" y="969" textLength="51" lengthAdjust="spacingAndGlyphs">1.1(1.1)</text>

  <text x="686.7" y="921" textLength="32" lengthAdjust="spacingAndGlyphs">0730</text>
  <text x="686.5" y="933" textLength="37" lengthAdjust="spacingAndGlyphs">269.5</text>
  <text x="687" y="945" textLength="90" lengthAdjust="spacingAndGlyphs">−54.1(−56.7)</text>
  <text x="686.5" y="957" textLength="53" lengthAdjust="spacingAndGlyphs">2.7(2.2)</text>
  <text x="686.5" y="969" textLength="53" lengthAdjust="spacingAndGlyphs">3.0(3.6)</text>
</g>
<g font-size="10.5">
  <text x="589" y="987.5" textLength="127" lengthAdjust="spacingAndGlyphs">nflux: #/(cm^2 s sr MeV)</text>
  <text x="589" y="998.5" textLength="183" lengthAdjust="spacingAndGlyphs" style="white-space:pre">Created: Sun Sep  3 13:10:06 2023</text>
</g>
</svg>
</body></html>
